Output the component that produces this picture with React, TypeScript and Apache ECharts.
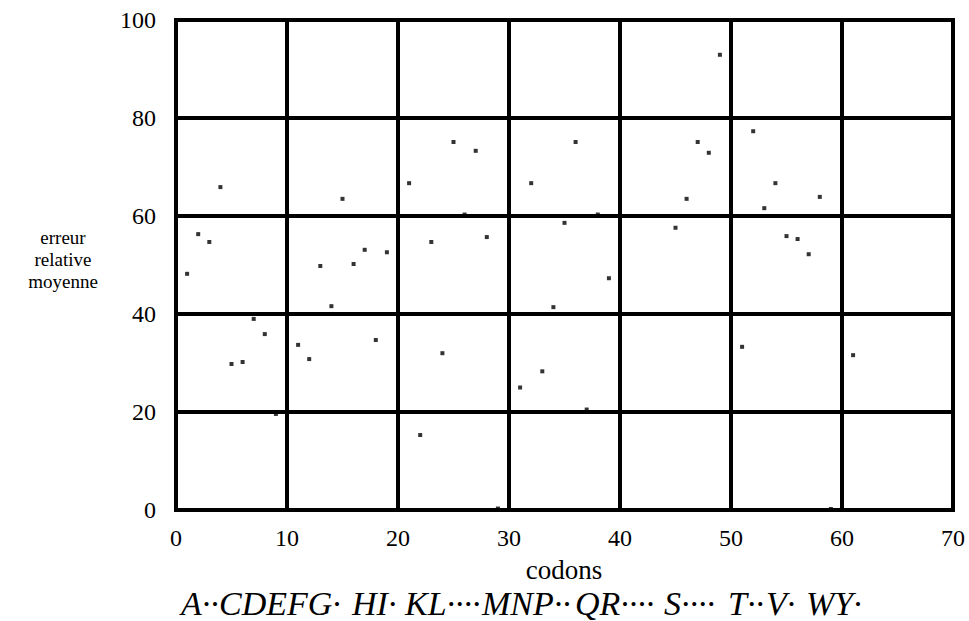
import React, { useEffect, useRef } from "react";
import * as echarts from "echarts";

const codons: number[] = [
  1, 2, 3, 4, 5, 6, 7, 8, 9, 11, 12, 13, 14, 15, 16, 17, 18, 19,
  21, 22, 23, 24, 25, 26, 27, 28, 29, 31, 32, 33, 34, 35, 36, 37, 38, 39,
  41, 42, 43, 44, 45, 46, 47, 48, 49, 51, 52, 53, 54, 55, 56, 57, 58, 59, 61,
];
const errors: number[] = [
  48.2, 56.3, 54.7, 65.9, 29.8, 30.2, 39.0, 35.9, 19.6, 33.7, 30.8, 49.8, 41.6, 63.5, 50.2, 53.1, 34.7, 52.6,
  66.7, 15.3, 54.7, 32.0, 75.1, 60.3, 73.3, 55.7, 0.3, 25.0, 66.7, 28.3, 41.4, 58.6, 75.1, 20.5, 60.3, 47.3,
  100, 100, 100, 100, 57.6, 63.5, 75.1, 72.9, 92.9, 33.3, 77.3, 61.6, 66.7, 55.9, 55.3, 52.2, 63.9, 0.2, 31.6,
];
const xTicks = { min: 0, max: 70, interval: 10 };
const yTicks = { min: 0, max: 100, interval: 20 };
const xName = "codons";
const yNameLines = ["erreur", "relative", "moyenne"];
// amino-acid letter groups, each followed by its run of dots
const aminoTokens: string[] = [
  "A··", "CDEFG·", "HI·", "KL····", "MNP··", "QR····", "S····", "T··", "V·", "WY·",
];

// layout of the amino-acid label tokens (left edge, pixels)
const tokenX = [181, 219, 352, 405, 482, 575, 664, 728, 766, 806];

export default function App() {
  const ref = useRef<HTMLDivElement>(null);
  useEffect(() => {
    if (!ref.current) return;
    const chart = echarts.init(ref.current, null, { renderer: "svg" });
    const font = "Liberation Serif";
    const aminoGraphics = aminoTokens.map((t, i) => ({
      type: "text",
      x: tokenX[i],
      y: 603,
      style: {
        text: t,
        fill: "#000",
        fontFamily: font,
        fontStyle: "italic",
        fontSize: 34,
        align: "left",
        verticalAlign: "middle",
      },
    }));
    const yNameGraphics = yNameLines.map((t, i) => ({
      type: "text",
      x: 63,
      y: 237 + i * 22,
      style: {
        text: t,
        fill: "#000",
        fontFamily: font,
        fontSize: 19,
        align: "center",
        verticalAlign: "middle",
      },
    }));
    chart.setOption({
      animation: false,
      backgroundColor: "#fff",
      grid: {
        left: 176,
        right: 16,
        top: 20,
        bottom: 111,
        show: true,
        borderColor: "#000",
        borderWidth: 4,
        z: 5,
      },
      xAxis: {
        type: "value",
        min: xTicks.min,
        max: xTicks.max,
        interval: xTicks.interval,
        z: 5,
        axisLine: { show: false },
        axisTick: { show: false },
        splitLine: { show: true, lineStyle: { color: "#000", width: 4 } },
        axisLabel: { color: "#000", fontFamily: font, fontSize: 24, margin: 16 },
      },
      yAxis: {
        type: "value",
        min: yTicks.min,
        max: yTicks.max,
        interval: yTicks.interval,
        z: 5,
        axisLine: { show: false },
        axisTick: { show: false },
        splitLine: { show: true, lineStyle: { color: "#000", width: 4 } },
        axisLabel: { color: "#000", fontFamily: font, fontSize: 24, margin: 20 },
      },
      series: [
        {
          type: "scatter",
          z: 1,
          clip: false,
          symbol: "rect",
          symbolSize: 4,
          itemStyle: { color: "#000" },
          data: codons.map((c, i) => [c, errors[i]]),
        },
      ],
      graphic: [
        {
          type: "text",
          x: 564,
          y: 570,
          style: {
            text: xName,
            fill: "#000",
            fontFamily: font,
            fontSize: 27,
            align: "center",
            verticalAlign: "middle",
          },
        },
        ...yNameGraphics,
        ...aminoGraphics,
      ],
    });
    return () => chart.dispose();
  }, []);
  return <div ref={ref} style={{ position: "fixed", left: 0, top: 0, width: 969, height: 621 }} />;
}
